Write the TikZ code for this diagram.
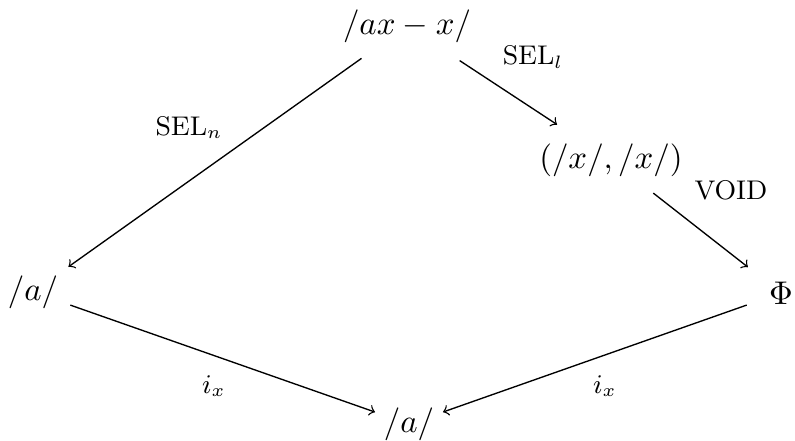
\documentclass[tikz,border=0pt]{standalone}
\begin{document}
\begin{tikzpicture}[x=0.33333pt,y=-0.33333pt,
  obj/.style={inner sep=0pt,font=\fontsize{10.5}{12.6}\selectfont},
  lbl/.style={inner sep=0pt,font=\small},
  arr/.style={->,line width=0.45pt}]
\useasboundingbox (0,0) rectangle (795,441);
\node[obj] (T) at (407,26) {$/ax-x/$};
\node[obj] (P) at (611,160) {$(/x/,/x/)$};
\node[obj] (L) at (33,292) {$/a/$};
\node[obj] (F) at (781,293) {$\Phi$};
\node[obj] (B) at (409,424) {$/a/$};
\draw[arr,shorten <=18.6pt,shorten >=14.5pt] (T.center) -- (L.center);
\draw[arr,shorten <=21pt,shorten >=21.5pt] (T.center) -- (P.center);
\draw[arr,shorten <=17.9pt,shorten >=14pt] (P.center) -- (F.center);
\draw[arr,shorten <=13.2pt,shorten >=12pt] (L.center) -- (B.center);
\draw[arr,shorten <=12.1pt,shorten >=12pt] (F.center) -- (B.center);
\node[lbl] (l1) at (189,127) {SEL$_n$};
\node[lbl] (l2) at (533,57) {SEL$_l$};
\node[lbl] (l3) at (731,190) {VOID};
\node[lbl] (l4) at (214,386) {$i_x$};
\node[lbl] (l5) at (605,386) {$i_x$};
\end{tikzpicture}
\end{document}
